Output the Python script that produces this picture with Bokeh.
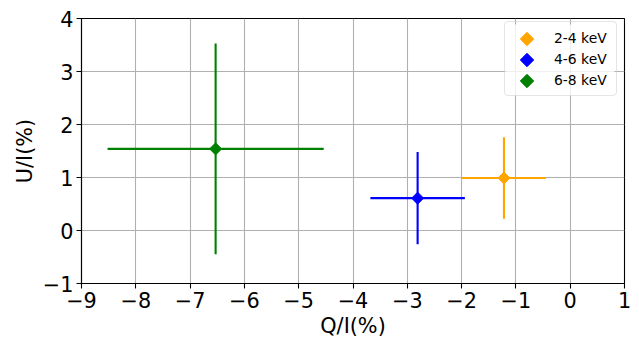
import numpy as np
from bokeh.plotting import figure
from bokeh.models import Range1d, FixedTicker
from bokeh.embed import file_html
from bokeh.resources import INLINE

labels = ["2-4 keV", "4-6 keV", "6-8 keV"]
colors = ["orange", "blue", "green"]
q = [-1.22, -2.81, -6.53]
q_err = [0.77, 0.87, 1.99]
u = [0.99, 0.61, 1.54]
u_err = [0.77, 0.87, 1.99]

x_ticks = list(range(-9, 2))
y_ticks = list(range(-1, 5))

FONT = "DejaVu Sans"
FW, FH = 543, 265          # frame size in px

p = figure(frame_width=FW, frame_height=FH, output_backend="svg", toolbar_location=None,
           x_range=Range1d(-9, 1), y_range=Range1d(-1, 4))
p.min_border_left = 81
p.min_border_right = 7
p.min_border_top = 18
p.min_border_bottom = 0
p.outline_line_color = "black"
p.outline_line_width = 1.1
p.background_fill_color = "white"
p.border_fill_color = "white"

for ax in (p.xaxis[0], p.yaxis[0]):
    ax.major_label_text_font = FONT
    ax.major_label_text_font_size = "20.8px"
    ax.major_label_text_color = "black"
    ax.axis_label_text_font = FONT
    ax.axis_label_text_font_size = "20.8px"
    ax.axis_label_text_font_style = "normal"
    ax.axis_label_text_color = "black"
    ax.major_tick_in = 0
    ax.major_tick_out = 5
    ax.minor_tick_in = 0
    ax.minor_tick_out = 0
    ax.axis_line_color = "black"
    ax.axis_line_width = 1.1
    ax.major_tick_line_color = "black"
    ax.major_tick_line_width = 1.1
    ax.major_label_standoff = 3

p.xaxis[0].ticker = FixedTicker(ticks=x_ticks)
p.yaxis[0].ticker = FixedTicker(ticks=y_ticks)
p.xaxis[0].major_label_overrides = {t: str(t).replace("-", "\u2212") for t in x_ticks}
p.yaxis[0].major_label_overrides = {t: str(t).replace("-", "\u2212") for t in y_ticks}
p.xaxis[0].axis_label = "Q/I(%)"
p.yaxis[0].axis_label = "U/I(%)"
p.xaxis[0].axis_label_standoff = 3
p.yaxis[0].axis_label_standoff = 3

p.xgrid.grid_line_color = "#b0b0b0"
p.ygrid.grid_line_color = "#b0b0b0"
p.xgrid.grid_line_width = 1.1
p.ygrid.grid_line_width = 1.1
p.xgrid.ticker = FixedTicker(ticks=x_ticks)
p.ygrid.ticker = FixedTicker(ticks=y_ticks)

MS = 8.5
for lab, c, x, xe, y, ye in zip(labels, colors, q, q_err, u, u_err):
    p.segment(x0=[x - xe], y0=[y], x1=[x + xe], y1=[y], line_color=c, line_width=2.1)
    p.segment(x0=[x], y0=[y - ye], x1=[x], y1=[y + ye], line_color=c, line_width=2.1)
    p.scatter(x=[x], y=[y], marker="square", angle=np.pi / 4, size=MS,
              fill_color=c, line_color=c, line_width=1)
    # legend entry (its glyph is drawn separately below as a rotated square)
    p.scatter(x=[x], y=[y], marker="square", size=0, fill_alpha=0, line_alpha=0,
              legend_label=lab)

# legend layout
PAD, ROW, GW, STANDOFF, LW = 5, 21, 35, 9, 57
n = len(labels)
LEG_H = 2 * PAD + n * ROW
LEG_W = 2 * PAD + GW + STANDOFF + LW
LX = 423
LY = FH - 5 - LEG_H

lg = p.legend[0]
lg.location = (LX, LY)
lg.label_text_font = FONT
lg.label_text_font_size = "13.9px"
lg.label_text_color = "black"
lg.border_line_color = "#cccccc"
lg.border_line_width = 1
lg.border_radius = 4
lg.background_fill_alpha = 0
lg.margin = 0
lg.padding = PAD
lg.spacing = 0
lg.label_height = ROW
lg.label_width = LW
lg.glyph_height = ROW
lg.glyph_width = GW
lg.label_standoff = STANDOFF

# legend background + markers (rotated squares) in frame-pixel space
p.extra_x_ranges = {"px": Range1d(0, FW)}
p.extra_y_ranges = {"py": Range1d(0, FH)}
p.quad(left=[LX + 1], right=[LX + LEG_W - 1], bottom=[LY + 1], top=[LY + LEG_H - 1],
       fill_color="white", fill_alpha=0.8, line_alpha=0,
       x_range_name="px", y_range_name="py")
gx = [LX + PAD + GW / 2] * n
gy = [LY + LEG_H - PAD - ROW / 2 - ROW * i for i in range(n)]
p.scatter(x=gx, y=gy, marker="square", angle=np.pi / 4, size=9.5,
          fill_color=colors, line_color=colors, line_width=1,
          x_range_name="px", y_range_name="py")

open("out.html", "w").write(file_html(p, INLINE))
